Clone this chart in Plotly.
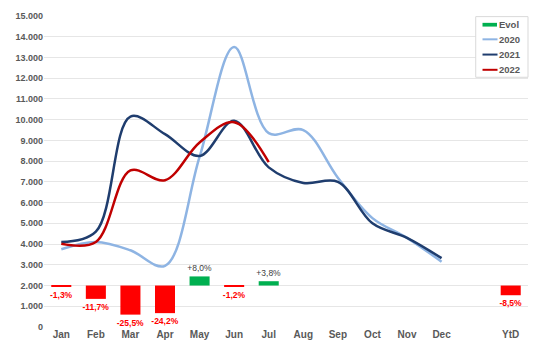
import plotly.graph_objects as go

months = ["Jan", "Feb", "Mar", "Apr", "May", "Jun", "Jul", "Aug", "Sep", "Oct", "Nov", "Dec"]
categories = months + [" ", "YtD"]

vals_2020 = [3750, 4100, 3700, 2950, 8200, 13500, 9350, 9500, 7200, 5250, 4300, 3150]
vals_2021 = [4100, 4600, 10150, 9300, 8250, 9950, 7700, 6950, 7000, 5000, 4300, 3320]
vals_2022 = [4020, 4100, 7550, 7080, 8900, 9880, 7950]

evol_cats = ["Jan", "Feb", "Mar", "Apr", "May", "Jun", "Jul", "YtD"]
evol_pct = [-1.3, -11.7, -25.5, -24.2, 8.0, -1.2, 3.8, -8.5]

legend_names = ["Evol", "2020", "2021", "2022"]

GREEN = "#00B050"
RED = "#FF0000"
GRAY = "#595959"
DARK = "#404040"
C2020, C2021, C2022 = "#8EB4E3", "#1F3D6E", "#C00000"
FONT = "Liberation Sans, Arial, sans-serif"

def fmt(v):
    s = f"{v:+.1f}%".replace(".", ",")
    return f"<b>{s}</b>" if v < 0 else s

fig = go.Figure()
fig.add_trace(go.Bar(
    x=evol_cats, y=evol_pct, name="Evol", yaxis="y2",
    marker=dict(color=[GREEN if v >= 0 else RED for v in evol_pct], line=dict(width=0)),
    width=0.58,
    text=[fmt(v) for v in evol_pct], textposition="outside", constraintext="none",
    textfont=dict(family=FONT, size=8.5, color=[DARK if v >= 0 else RED for v in evol_pct]),
    cliponaxis=False, showlegend=False,
))
for name, vals, col in [("2020", vals_2020, C2020), ("2021", vals_2021, C2021), ("2022", vals_2022, C2022)]:
    fig.add_trace(go.Scatter(
        x=months[:len(vals)], y=vals, name=name, mode="lines", showlegend=False,
        line=dict(color=col, width=2.5, shape="spline", smoothing=1.0),
    ))

# custom compact legend (paper coordinates)
shapes = [dict(type="rect", xref="paper", yref="paper", x0=0.892, x1=1.0, y0=0.803, y1=0.998,
               line=dict(color="#D9D9D9", width=1), fillcolor="white", layer="above")]
annotations = []
rows = [0.972, 0.925, 0.876, 0.827]
sym = [("bar", GREEN), ("line", C2020), ("line", C2021), ("line", C2022)]
for (kind, col), yy, nm in zip(sym, rows, legend_names):
    if kind == "bar":
        shapes.append(dict(type="rect", xref="paper", yref="paper", x0=0.906, x1=0.936,
                           y0=yy - 0.006, y1=yy + 0.006, fillcolor=col, line=dict(width=0), layer="above"))
    else:
        shapes.append(dict(type="line", xref="paper", yref="paper", x0=0.906, x1=0.937,
                           y0=yy, y1=yy, line=dict(color=col, width=2), layer="above"))
    annotations.append(dict(xref="paper", yref="paper", x=0.936, y=yy, text=f"<b>{nm}</b>",
                            showarrow=False, xanchor="left", yanchor="middle",
                            font=dict(family=FONT, size=9.5, color=GRAY)))

fig.update_layout(
    width=540, height=353,
    margin=dict(l=44, r=12, t=11, b=26),
    paper_bgcolor="white", plot_bgcolor="white",
    separators=",.",
    font=dict(family=FONT, size=9, color=GRAY),
    xaxis=dict(type="category", categoryorder="array", categoryarray=categories,
               range=[-0.5, 13.5], showgrid=False, showline=False, zeroline=False,
               tickfont=dict(size=10, weight="bold", color=GRAY), ticks=""),
    yaxis=dict(range=[0, 15000], dtick=1000, tickformat=",d", showgrid=True,
               gridcolor="#E6E6E6", gridwidth=1, zeroline=False, showline=False,
               tickfont=dict(size=9, weight="bold", color=GRAY), ticks=""),
    yaxis2=dict(overlaying="y", range=[-36.36, 236.4], visible=False, showgrid=False, zeroline=False),
    shapes=shapes, annotations=annotations,
    showlegend=False,
)

fig.write_html("out.html")
